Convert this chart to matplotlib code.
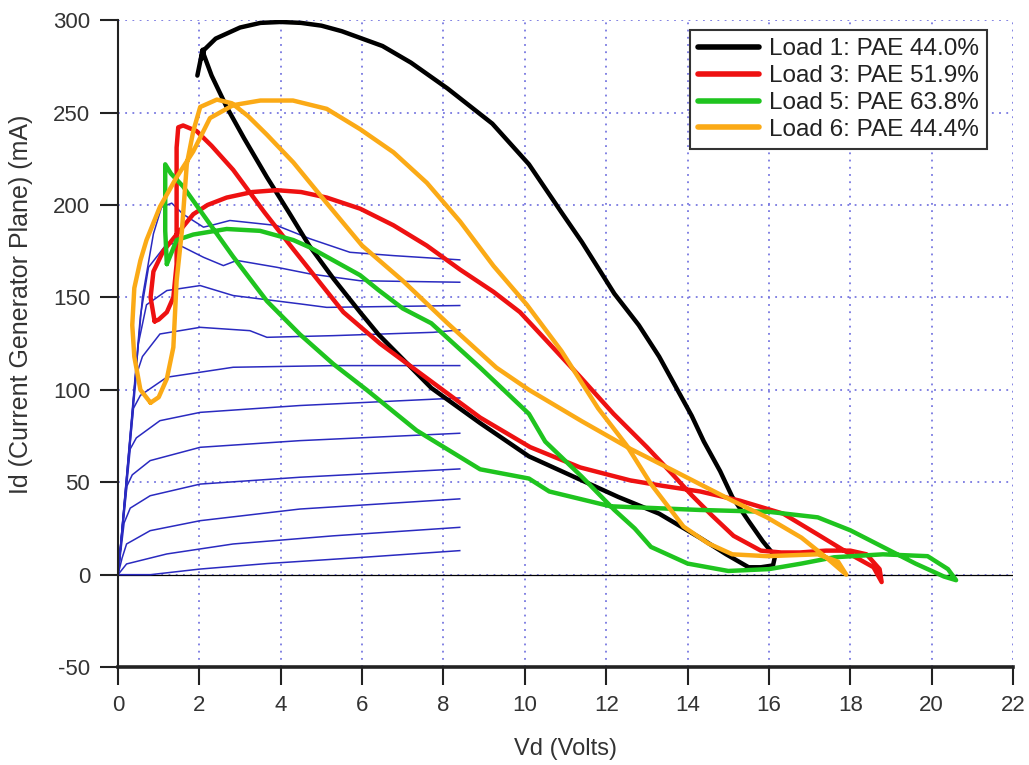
import matplotlib
matplotlib.use('Agg')
import matplotlib.pyplot as plt

plt.rcParams['font.family'] = ['Liberation Sans', 'DejaVu Sans']
plt.rcParams['axes.unicode_minus'] = False

# DC-IV family (Vd in V, Id in mA)
iv_curves = [
    ([0, 0.8, 2.0, 3.66, 6.1, 8.4], [0, 0, 3, 6, 9.5, 13]),
    ([0, 0.21, 1.2, 2.83, 5.29, 8.4], [0, 5.8, 11.2, 16.6, 21, 25.6]),
    ([0, 0.1, 0.21, 0.79, 2.02, 4.47, 8.4], [0, 9, 16.6, 23.8, 29.2, 35.5, 41]),
    ([0, 0.15, 0.3, 0.79, 2.02, 4.47, 8.4], [0, 28, 36, 42.7, 49, 52.7, 57.2]),
    ([0, 0.22, 0.35, 0.79, 2.02, 4.47, 8.4], [0, 48, 54, 61.7, 68.9, 72.5, 76.5]),
    ([0, 0.3, 0.45, 1.03, 2.02, 4.47, 8.4], [0, 68, 74, 83.3, 87.8, 91.5, 95.6]),
    ([0, 0.38, 0.55, 1.2, 2.83, 5.29, 8.4], [0, 90, 97, 106.8, 112.2, 113.1, 113.1]),
    ([0, 0.45, 0.6, 1.03, 2.02, 3.24, 3.66, 5.29, 7.75, 8.4],
     [0, 108, 118, 130.2, 133.8, 132, 128.4, 129.3, 131.1, 132.4]),
    ([0, 0.5, 0.7, 1.2, 2.02, 2.83, 4.47, 5.13, 8.4],
     [0, 125, 146, 153.7, 156.4, 151, 146.5, 144.6, 145.6]),
    ([0, 0.55, 0.75, 1.2, 1.44, 2.1, 2.59, 2.92, 3.9, 4.72, 5.95, 8.4],
     [0, 140, 166.3, 179, 179, 171.7, 167.2, 170, 166.3, 162.7, 159, 158.2]),
    ([0, 0.6, 0.87, 1.07, 1.32, 1.6, 2.1, 2.3, 2.75, 3.9, 4.72, 5.7, 6.77, 8.4],
     [0, 150, 184.4, 198.8, 201, 195, 188, 189, 191.6, 188.9, 181.7, 174.4, 172.6, 170.3]),
]

# load lines
load1_v = [1.95, 2.08, 2.05, 2.12, 2.4, 2.7, 3.0, 3.5, 4.0, 4.5, 5.0, 5.5, 6.0, 6.5,
           7.2, 8.1, 9.2, 10.1, 10.9, 11.4, 12.2, 12.8, 13.3, 13.7, 14.1, 14.4, 14.8,
           15.1, 15.5, 15.85, 16.15, 16.1, 15.8, 15.5, 14.95, 14.3, 13.3, 12.3, 11.4,
           10.1, 8.9, 7.7, 6.4, 5.95, 5.3, 4.7, 4.2, 3.66, 3.1, 2.67, 2.3, 2.08]
load1_i = [270, 284, 279, 284, 290, 293, 296, 298.5, 299, 298.5, 297, 294, 290, 286,
           277, 263, 244, 222, 196, 180, 152, 135, 118, 102, 86, 72, 56,
           42, 29, 18, 10, 5, 4, 4, 11, 20, 33, 42, 51,
           64, 82, 101, 130, 142, 160, 178, 196, 215, 236, 253, 270, 283]

load3_v = [0.9, 0.8, 0.87, 1.11, 1.44, 1.85, 2.2, 2.67, 3.3, 3.9, 4.5, 5.13, 5.95,
           6.77, 7.59, 8.41, 9.23, 9.88, 10.6, 11.36, 12.18, 13.0, 13.6, 14.1, 14.6,
           15.13, 15.8, 16.3, 16.76, 17.4, 18.0, 18.4, 18.72, 18.77, 18.57, 18.0,
           17.18, 16.35, 15.29, 14.31, 13.4, 12.59, 11.36, 10.13, 8.9, 7.67, 6.44,
           5.54, 4.31, 3.6, 2.83, 2.3, 1.93, 1.6, 1.48, 1.44, 1.44, 1.36, 1.2, 1.0, 0.9]
load3_i = [137, 150, 164, 175, 184, 195, 200, 204, 207, 208, 207, 204, 198,
           189, 178, 165, 153, 142, 125, 107, 87, 69, 55, 43, 32,
           21, 13, 12, 12, 13, 13, 11, 3, -4, 4, 11,
           22, 33, 40, 45, 48, 51, 58, 69, 85, 105, 125,
           142, 176, 196, 219, 232, 240, 243, 242, 231, 168, 150, 142, 138, 137]

load5_v = [1.2, 1.16, 1.16, 1.16, 1.3, 1.6, 2.02, 2.83, 3.66, 4.47, 5.29, 6.11, 7.34,
           8.9, 10.1, 10.6, 12.1, 14.3, 16.0, 17.2, 18.0, 18.8, 19.6, 20.3, 20.6, 20.4,
           19.9, 18.8, 17.6, 16.8, 16.0, 15.0, 14.0, 13.1, 12.7, 12.2, 11.4, 10.5,
           10.1, 8.9, 7.7, 7.0, 6.4, 5.95, 4.72, 4.31, 3.49, 2.67, 1.85, 1.44, 1.2]
load5_i = [168, 186, 204, 222, 217, 210, 197, 172, 148, 130, 114, 100, 78,
           57, 52, 45, 37, 35, 34, 31, 24, 15, 6, -1, -3, 3,
           10, 11, 9.4, 6, 3, 2, 6, 15, 25, 35, 53, 72,
           87, 112, 136, 144, 154, 162, 177, 181, 186, 187, 184, 181, 168]

load6_v = [0.8, 0.55, 0.4, 0.35, 0.4, 0.55, 0.7, 1.03, 1.44, 1.85, 2.26, 2.83, 3.5,
           4.3, 5.13, 5.95, 6.77, 7.59, 8.41, 9.23, 10.05, 10.9, 11.8, 12.5, 13.1,
           13.9, 14.5, 15.1, 15.95, 17.2, 17.7, 17.9, 17.4, 16.8, 15.95, 15.1, 14.3,
           13.5, 12.6, 11.4, 10.1, 9.3, 8.1, 7.0, 6.0, 5.13, 4.31, 3.66, 3.2, 2.8,
           2.43, 2.02, 1.85, 1.69, 1.57, 1.44, 1.36, 1.2, 1.0, 0.8]
load6_i = [93, 100, 118, 135, 155, 170, 181, 199, 215, 229, 247, 254, 256.5,
           256.5, 252, 241, 228.5, 212, 191, 167, 146, 121, 90, 70, 49,
           26, 17, 11, 10, 11, 7, 0, 9.4, 20, 31, 40, 49,
           58, 68, 83, 100, 112, 136, 159, 178, 201, 223, 238, 248, 255,
           257, 253, 240, 222, 186, 159, 123, 106, 96, 93]

loads = [
    (load1_v, load1_i, 'black', 'Load 1: PAE 44.0%'),
    (load3_v, load3_i, '#ee1111', 'Load 3: PAE 51.9%'),
    (load5_v, load5_i, '#1fc41f', 'Load 5: PAE 63.8%'),
    (load6_v, load6_i, '#fbaa16', 'Load 6: PAE 44.4%'),
]

fig = plt.figure(figsize=(10.29, 7.65), dpi=100)
ax = fig.add_axes([0.1147, 0.128, 0.8698, 0.8457])

for v, i in iv_curves:
    ax.plot(v, i, color='#2a2ac0', lw=1.1, zorder=2)

for v, i, c, lab in loads:
    ax.plot(v, i, color=c, lw=3.2, label=lab, zorder=3,
            solid_joinstyle='round', solid_capstyle='round')

ax.axhline(0, color='black', lw=0.9, zorder=1.5)

ax.set_xlim(0, 22)
ax.set_ylim(-50, 300)
ax.set_xticks(range(0, 23, 2))
ax.set_yticks(range(-50, 301, 50))
ax.grid(True, color='#7878e0', linestyle=(0, (1, 3)), lw=1.3)
ax.set_axisbelow(True)

for s in ['top', 'right']:
    ax.spines[s].set_visible(False)
ax.spines['left'].set_linewidth(1.5)
ax.spines['bottom'].set_linewidth(2.6)
ax.spines['left'].set_color('#222222')
ax.spines['bottom'].set_color('#222222')
ax.tick_params(axis='both', direction='out', length=13, width=1.5, color='#222222',
               labelsize=16, labelcolor='#333333', pad=7)

ax.set_xlabel('Vd (Volts)', fontsize=17, color='#333333', labelpad=16)
ax.set_ylabel('Id (Current Generator Plane) (mA)', fontsize=18, color='#333333',
              va='center')
ax.yaxis.set_label_coords(-0.108, 0.56)

leg = ax.legend(loc='upper right', bbox_to_anchor=(0.971, 0.985), fontsize=17.5,
                fancybox=False, framealpha=1, edgecolor='#333333', borderpad=0.35,
                labelspacing=0.2, handlelength=2.5, handletextpad=0.4, borderaxespad=0)
leg.get_frame().set_linewidth(1.5)
for line in leg.get_lines():
    line.set_linewidth(4)
for t in leg.get_texts():
    t.set_color('#222222')

fig.savefig('out.png', dpi=100)
